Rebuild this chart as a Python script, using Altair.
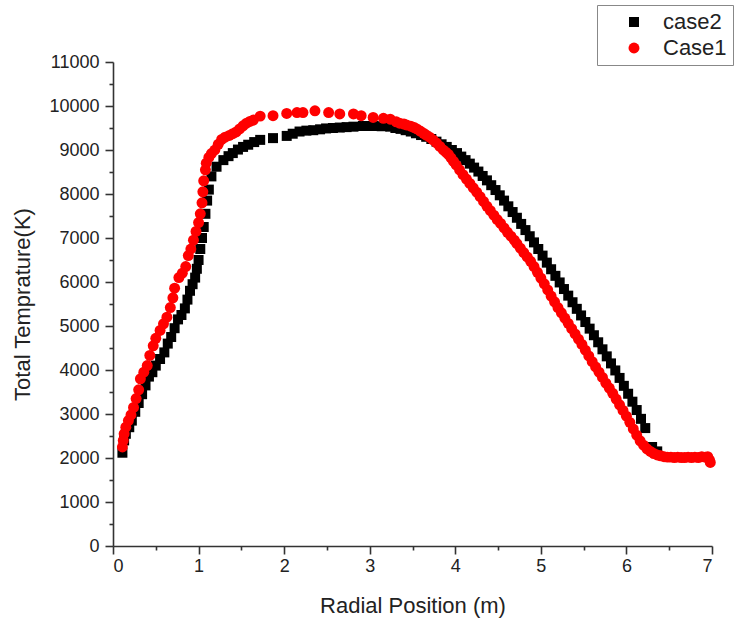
import altair as alt
import pandas as pd

# case2 (black squares)
x_case2 = [0.11, 0.13, 0.15, 0.19, 0.22, 0.26, 0.30, 0.34, 0.38, 0.42, 0.46, 0.50, 0.55, 0.60,
           0.64, 0.68, 0.72, 0.76, 0.80, 0.84, 0.87, 0.90, 0.93, 0.96, 0.98, 1.00, 1.02, 1.04,
           1.06, 1.08, 1.10, 1.12, 1.15, 1.21, 1.29, 1.35, 1.40, 1.46, 1.52, 1.58, 1.65, 1.72,
           1.87, 2.03, 2.10, 2.18, 2.26, 2.34, 2.42, 2.49, 2.57, 2.65, 2.73, 2.81, 2.92, 2.98,
           3.04, 3.14, 3.24, 3.30, 3.36, 3.42, 3.48, 3.54, 3.60, 3.66, 3.72, 3.78, 3.84, 3.90,
           3.96, 4.02, 4.07, 4.12, 4.17, 4.22, 4.27, 4.32, 4.37, 4.42, 4.47, 4.52, 4.57, 4.62,
           4.67, 4.72, 4.77, 4.82, 4.87, 4.92, 4.97, 5.02, 5.07, 5.12, 5.17, 5.22, 5.27, 5.32,
           5.37, 5.42, 5.47, 5.52, 5.57, 5.62, 5.67, 5.72, 5.77, 5.82, 5.87, 5.92, 5.97, 6.02,
           6.07, 6.12, 6.17, 6.22, 6.30, 6.36]
y_case2 = [2120, 2400, 2550, 2700, 2850, 3050, 3250, 3450, 3650, 3850, 3950, 4100, 4250, 4400,
           4600, 4750, 4950, 5150, 5250, 5400, 5600, 5800, 5950, 6100, 6300, 6500, 6750, 7000,
           7250, 7550, 7850, 8100, 8400, 8620, 8770, 8860, 8930, 9010, 9070, 9120, 9180, 9230,
           9270, 9320, 9370, 9420, 9440, 9450, 9470, 9490, 9500, 9510, 9520, 9530, 9545, 9545,
           9545, 9540, 9530, 9500, 9480, 9450, 9420, 9380, 9340, 9300, 9250, 9190, 9130, 9070,
           9000, 8930, 8850, 8770, 8690, 8600, 8510, 8410, 8310, 8200, 8090, 7970, 7850, 7720,
           7590, 7460, 7320, 7180, 7040, 6900, 6750, 6600, 6440, 6290, 6140, 5990, 5840, 5690,
           5540, 5390, 5240, 5090, 4940, 4790, 4630, 4470, 4310, 4150, 3990, 3820, 3640, 3460,
           3280, 3090, 2890, 2680, 2250, 2150]

# Case1 (red circles)
x_case1 = [0.11, 0.12, 0.13, 0.15, 0.18, 0.21, 0.24, 0.27, 0.30, 0.32, 0.36, 0.40, 0.43, 0.47,
           0.50, 0.55, 0.59, 0.63, 0.67, 0.70, 0.72, 0.77, 0.81, 0.85, 0.88, 0.91, 0.94, 0.97,
           1.00, 1.02, 1.04, 1.05, 1.06, 1.08, 1.09, 1.12, 1.15, 1.19, 1.23, 1.27, 1.31, 1.36,
           1.40, 1.44, 1.48, 1.52, 1.56, 1.60, 1.64, 1.72, 1.87, 2.03, 2.15, 2.22, 2.36, 2.52,
           2.65, 2.81, 2.90, 3.04, 3.16, 3.24, 3.31, 3.35, 3.40, 3.43, 3.48, 3.52, 3.55, 3.59,
           3.63, 3.66, 3.70, 3.74, 3.78, 3.82, 3.86, 3.89, 3.92, 3.95, 3.98, 4.01, 4.05, 4.09,
           4.13, 4.17, 4.21, 4.25, 4.29, 4.33, 4.37, 4.41, 4.45, 4.49, 4.53, 4.57, 4.61, 4.65,
           4.69, 4.72, 4.76, 4.80, 4.84, 4.88, 4.92, 4.96, 5.00, 5.04, 5.08, 5.12, 5.16, 5.20,
           5.24, 5.28, 5.32, 5.36, 5.40, 5.44, 5.48, 5.52, 5.56, 5.60, 5.64, 5.68, 5.72, 5.76,
           5.80, 5.84, 5.88, 5.92, 5.96, 6.00, 6.04, 6.08, 6.12, 6.16, 6.20, 6.24, 6.28, 6.32,
           6.36, 6.40, 6.44, 6.48, 6.52, 6.56, 6.60, 6.64, 6.68, 6.72, 6.76, 6.80, 6.84, 6.88,
           6.92, 6.95, 6.97, 6.98]
y_case1 = [2250, 2400, 2550, 2700, 2850, 2980, 3150, 3350, 3550, 3800, 3950, 4100, 4330, 4550,
           4720, 4900, 5050, 5200, 5420, 5640, 5860, 6100, 6200, 6350, 6600, 6750, 6950, 7150,
           7350, 7550, 7800, 8050, 8300, 8550, 8700, 8830, 8920, 9000, 9130, 9240, 9290, 9330,
           9370, 9410, 9480, 9550, 9610, 9650, 9680, 9770, 9780, 9830, 9850, 9850, 9890, 9850,
           9820, 9820, 9780, 9740, 9720, 9700, 9640, 9610, 9590, 9570, 9540, 9510, 9480, 9430,
           9380, 9340, 9290, 9230, 9160, 9080, 9000, 8950, 8900, 8820, 8740, 8660, 8550, 8440,
           8340, 8240, 8140, 8040, 7940, 7830, 7720, 7620, 7520, 7420, 7330, 7230, 7130, 7040,
           6950, 6870, 6770, 6670, 6570, 6470, 6350, 6220, 6090, 5960, 5820, 5680, 5550, 5420,
           5300, 5180, 5060, 4940, 4820, 4700, 4580, 4450, 4320, 4190, 4070, 3950, 3830, 3700,
           3590, 3470, 3340, 3210, 3080, 2950, 2810, 2660, 2520, 2390, 2290, 2210, 2150, 2100,
           2070, 2050, 2030, 2020, 2020, 2010, 2020, 2010, 2010, 2020, 2010, 2020, 2010, 2030,
           2020, 2030, 1960, 1900]

series_names = ["case2", "Case1"]
series_colors = ["#000000", "#ff0000"]
series_shapes = ["square", "circle"]

x_ticks = [0, 0.5, 1, 1.5, 2, 2.5, 3, 3.5, 4, 4.5, 5, 5.5, 6, 6.5, 7]
y_ticks = [0, 500, 1000, 1500, 2000, 2500, 3000, 3500, 4000, 4500, 5000, 5500, 6000,
           6500, 7000, 7500, 8000, 8500, 9000, 9500, 10000, 10500, 11000]

df = pd.concat([
    pd.DataFrame({"x": x_case2, "y": y_case2, "series": "case2"}),
    pd.DataFrame({"x": x_case1, "y": y_case1, "series": "Case1"}),
], ignore_index=True)

FONT = "Liberation Sans"
AX = "#222222"

chart = alt.Chart(df).mark_point(filled=True, opacity=1, strokeWidth=0).encode(
    x=alt.X("x:Q",
            scale=alt.Scale(domain=[0, 7], nice=False, zero=False),
            axis=alt.Axis(title="Radial Position (m)", values=x_ticks, format="~g",
                          labelExpr="datum.value % 1 === 0 ? datum.label : ''",
                          tickSize={"condition": {"test": "datum.value % 1 !== 0", "value": 4}, "value": 8},
                          labelOverlap=False, grid=False, labelPadding=3,
                          titlePadding=20)),
    y=alt.Y("y:Q",
            scale=alt.Scale(domain=[0, 11000], nice=False),
            axis=alt.Axis(title="Total Temprature(K)", values=y_ticks, format="d",
                          labelExpr="datum.value % 1000 === 0 ? datum.label : ''",
                          tickSize={"condition": {"test": "datum.value % 1000 !== 0", "value": 4}, "value": 8},
                          labelOverlap=False, grid=False, labelPadding=6,
                          titlePadding=14)),
    color=alt.Color("series:N",
                    scale=alt.Scale(domain=series_names, range=series_colors),
                    legend=alt.Legend(title=None, orient="none", legendX=484, legendY=-57,
                                      labelFont=FONT, labelFontSize=22, labelColor=AX,
                                      strokeColor="#888888", fillColor="white",
                                      padding=6, symbolOffset=20, labelOffset=18,
                                      rowPadding=4, symbolSize=115, symbolStrokeWidth=0)),
    shape=alt.Shape("series:N",
                    scale=alt.Scale(domain=series_names, range=series_shapes),
                    legend=None),
    size=alt.Size("series:N",
                  scale=alt.Scale(domain=series_names, range=[100, 120]),
                  legend=None),
    order=alt.Order("ord:Q"),
).transform_calculate(
    ord="datum.series === 'case2' ? 0 : 1"
).properties(
    width=599, height=484,
    padding={"left": 113, "top": 62, "right": 22, "bottom": 78},
    autosize=alt.AutoSizeParams(type="none"),
).configure_view(
    stroke=None
).configure_axis(
    labelFont=FONT, titleFont=FONT, labelFontSize=18, titleFontSize=22,
    labelColor=AX, titleColor=AX, titleFontWeight="normal",
    domainColor="#333333", tickColor="#333333", domainWidth=1.6, tickWidth=1.6,
)

chart.save("out.html", embed_options={"renderer": "svg", "actions": False})
